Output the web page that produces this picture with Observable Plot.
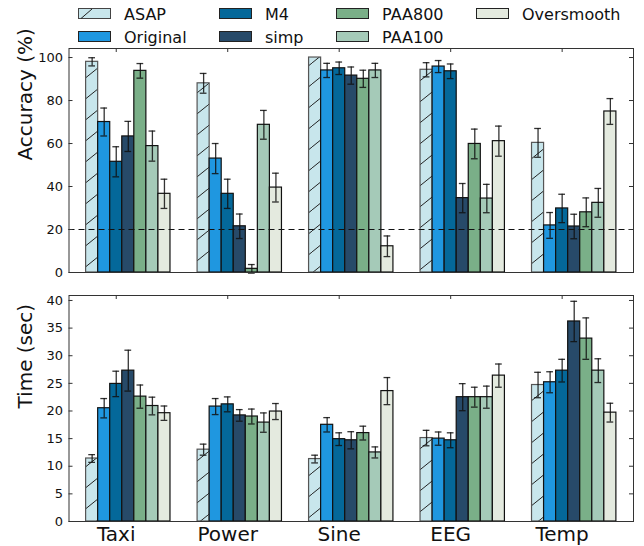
<!DOCTYPE html>
<html>
<head>
<meta charset="utf-8">
<script src="https://cdn.jsdelivr.net/npm/d3@7"></script>
<script src="https://cdn.jsdelivr.net/npm/@observablehq/plot@0.6"></script>
<style>
  body { margin: 0; background: #fff; font-family: "DejaVu Sans", sans-serif; }
  #wrap { position: relative; width: 644px; height: 546px; overflow: hidden; background: #fff; }
  #wrap > svg, #wrap > div.chart { position: absolute; left: 0; }
  .item { position: absolute; height: 20px; display: flex; align-items: center; font-size: 16px; color: #111; white-space: nowrap; }
  .item svg { display: block; }
</style>
</head>
<body>
<div id="wrap"></div>
<script>
// ---------- data ----------
const datasets = ["Taxi", "Power", "Sine", "EEG", "Temp"];
const methods = ["ASAP", "Original", "M4", "simp", "PAA800", "PAA100", "Oversmooth"];

// Accuracy (%) per method, in dataset order
const accASAP       = [98.0, 88.0, 100.0, 94.3, 60.3];
const accOriginal   = [70.0, 53.0, 94.0, 95.8, 21.9];
const accM4         = [51.5, 36.6, 95.0, 93.6, 29.8];
const accSimp       = [63.3, 21.5, 91.6, 34.6, 21.4];
const accPAA800     = [93.8, 1.7, 90.1, 59.8, 28.0];
const accPAA100     = [58.8, 68.7, 94.0, 34.4, 32.4];
const accOversmooth = [36.6, 39.5, 12.2, 61.1, 74.9];
// Accuracy error half-widths
const accErrASAP       = [1.9, 4.6, 0, 3.3, 6.7];
const accErrOriginal   = [6.5, 7.0, 3.3, 2.8, 6.0];
const accErrM4         = [7.0, 6.8, 2.9, 3.4, 6.6];
const accErrSimp       = [7.0, 5.7, 4.0, 6.8, 5.7];
const accErrPAA800     = [3.4, 2.0, 4.0, 6.9, 6.7];
const accErrPAA100     = [7.0, 6.7, 3.3, 6.6, 6.7];
const accErrOversmooth = [6.8, 6.7, 4.8, 7.0, 6.0];

// Time (sec) per method
const timeASAP       = [11.4, 13.0, 11.3, 15.1, 24.7];
const timeOriginal   = [20.5, 20.8, 17.5, 15.0, 25.2];
const timeM4         = [24.9, 21.2, 14.9, 14.7, 27.3];
const timeSimp       = [27.3, 19.2, 14.7, 22.5, 36.2];
const timePAA800     = [22.6, 19.0, 16.0, 22.5, 33.1];
const timePAA100     = [20.9, 17.9, 12.5, 22.5, 27.3];
const timeOversmooth = [19.6, 19.9, 23.6, 26.4, 19.7];
// Time error half-widths
const timeErrASAP       = [0.7, 1.0, 0.7, 1.4, 2.3];
const timeErrOriginal   = [1.75, 1.45, 1.3, 1.2, 1.9];
const timeErrM4         = [2.3, 1.35, 1.15, 1.35, 2.05];
const timeErrSimp       = [3.7, 1.05, 1.55, 2.45, 3.65];
const timeErrPAA800     = [2.1, 1.35, 1.25, 1.8, 3.75];
const timeErrPAA100     = [1.6, 1.75, 1.0, 2.0, 2.15];
const timeErrOversmooth = [1.3, 1.45, 2.45, 2.1, 1.7];

const accTicks  = [0, 20, 40, 60, 80, 100];
const timeTicks = [0, 5, 10, 15, 20, 25, 30, 35, 40];
const threshold = [20];

// ---------- styles ----------
const colors = ["#c8e6ec", "#1f97e0", "#04689a", "#274a69", "#7aaf88", "#a5cab8", "#e4eadf"];
const W = 644, ML = 68.5, MR = 11;
const step = 9.25;              // group spacing in bar widths
const xDomain = [-1.42, 45.42];
const font = "DejaVu Sans";

const accValues  = [accASAP, accOriginal, accM4, accSimp, accPAA800, accPAA100, accOversmooth];
const accErrors  = [accErrASAP, accErrOriginal, accErrM4, accErrSimp, accErrPAA800, accErrPAA100, accErrOversmooth];
const timeValues = [timeASAP, timeOriginal, timeM4, timeSimp, timePAA800, timePAA100, timeOversmooth];
const timeErrors = [timeErrASAP, timeErrOriginal, timeErrM4, timeErrSimp, timeErrPAA800, timeErrPAA100, timeErrOversmooth];

function buildRows(values, errors) {
  const rows = [];
  methods.forEach((m, i) => datasets.forEach((d, g) => {
    rows.push({method: m, dataset: d, i, g, value: values[i][g], err: errors[i][g]});
  }));
  return rows;
}

function addHatch(svg, id) {
  const defs = d3.select(svg).insert("defs", ":first-child");
  const p = defs.append("pattern").attr("id", id).attr("patternUnits", "userSpaceOnUse")
    .attr("width", 26).attr("height", 21);
  p.append("rect").attr("width", 26).attr("height", 21).attr("fill", colors[0]);
  p.append("path").attr("d", "M-1,21.8L27,-0.8").attr("stroke", "#222").attr("stroke-width", 1).attr("fill", "none");
}

function makeChart({values, errors, yDomain, yTicks, height, marginTop, marginBottom, label, hatchId, dashed, categories}) {
  const rows = buildRows(values, errors);
  const withErr = rows.filter(d => d.err > 0);
  const x1 = d => d.g * step + d.i;
  const xc = d => d.g * step + d.i + 0.5;
  const frameW = W - ML - MR;
  const frameH = height - marginTop - marginBottom;
  const catX = (d, g) => g * step + 2.5;
  const marks = [
    Plot.rectY(rows, {
      x1, x2: d => x1(d) + 1, y1: 0, y2: "value",
      fill: d => d.i === 0 ? `url(#${hatchId})` : colors[d.i],
      stroke: d => d.i === 0 ? "#555" : "#111",
      strokeWidth: 1.2
    }),
    Plot.ruleX(withErr, {x: xc, y1: d => d.value - d.err, y2: d => d.value + d.err, stroke: "#111", strokeWidth: 1.3, strokeOpacity: 0.85}),
    Plot.ruleY(withErr, {y: d => d.value + d.err, x1: d => xc(d) - 0.28, x2: d => xc(d) + 0.28, stroke: "#111", strokeWidth: 1.3, strokeOpacity: 0.85}),
    Plot.ruleY(withErr, {y: d => d.value - d.err, x1: d => xc(d) - 0.28, x2: d => xc(d) + 0.28, stroke: "#111", strokeWidth: 1.3, strokeOpacity: 0.85}),
  ];
  if (dashed) marks.push(Plot.ruleY(threshold, {stroke: "#111", strokeWidth: 1.1, strokeDasharray: "6,4"}));
  marks.push(
    Plot.frame({stroke: "#333", strokeWidth: 1}),
    Plot.tickY(yTicks, {y: d => d, insetRight: frameW - 4, stroke: "#333"}),
    Plot.tickY(yTicks, {y: d => d, insetLeft: frameW - 4, stroke: "#333"}),
    Plot.tickX(datasets, {x: catX, insetBottom: frameH - 4, stroke: "#333"}),
    Plot.text([label], {frameAnchor: "left", dx: -43.5, rotate: -90, fontSize: 20, text: d => d, fill: "#111"})
  );
  if (categories) {
    marks.push(Plot.text(datasets, {x: catX, text: d => d, frameAnchor: "bottom", lineAnchor: "top", dy: 5, fontSize: 20, fill: "#111"}));
  }
  const svg = Plot.plot({
    width: W, height, marginLeft: ML, marginRight: MR, marginTop, marginBottom,
    style: {fontFamily: font, fontSize: "13px", color: "#111", background: "transparent", overflow: "visible"},
    x: {domain: xDomain, axis: null},
    y: {domain: yDomain, ticks: yTicks, tickSize: 0, tickPadding: 6, label: null},
    color: {type: "identity"},
    marks
  });
  addHatch(svg, hatchId);
  return svg;
}

const wrap = document.getElementById("wrap");

const top1 = makeChart({
  values: accValues, errors: accErrors, yDomain: [0, 104.2], yTicks: accTicks,
  height: 284, marginTop: 48, marginBottom: 12, label: "Accuracy (%)", hatchId: "hatchA", dashed: true, categories: false
});
top1.style.top = "0px";
wrap.appendChild(top1);

const bottom1 = makeChart({
  values: timeValues, errors: timeErrors, yDomain: [0, 40.9], yTicks: timeTicks,
  height: 262, marginTop: 11, marginBottom: 25, label: "Time (sec)", hatchId: "hatchB", dashed: false, categories: true
});
bottom1.style.top = "284px";
wrap.appendChild(bottom1);

// ---------- legend (4 columns x 2 rows, column-major) ----------
const colX = [78, 219, 336, 476];
const rowY = [14, 37];
methods.forEach((m, i) => {
  const c = Math.floor(i / 2), r = i % 2;
  const item = document.createElement("div");
  item.className = "item";
  item.style.left = colX[c] + "px";
  item.style.top = (rowY[r] - 10) + "px";
  const sw = d3.create("svg").attr("width", 46).attr("height", 12);
  sw.append("rect").attr("x", 0.5).attr("y", 0.5).attr("width", 32).attr("height", 10)
    .attr("fill", colors[i]).attr("stroke", i === 0 ? "#444" : "#222").attr("stroke-width", 1);
  if (i === 0) sw.append("path").attr("d", "M3,10.5L14,1").attr("stroke", "#222").attr("stroke-width", 1);
  item.appendChild(sw.node());
  const t = document.createElement("span");
  t.textContent = m;
  item.appendChild(t);
  wrap.appendChild(item);
});
</script>
</body>
</html>
